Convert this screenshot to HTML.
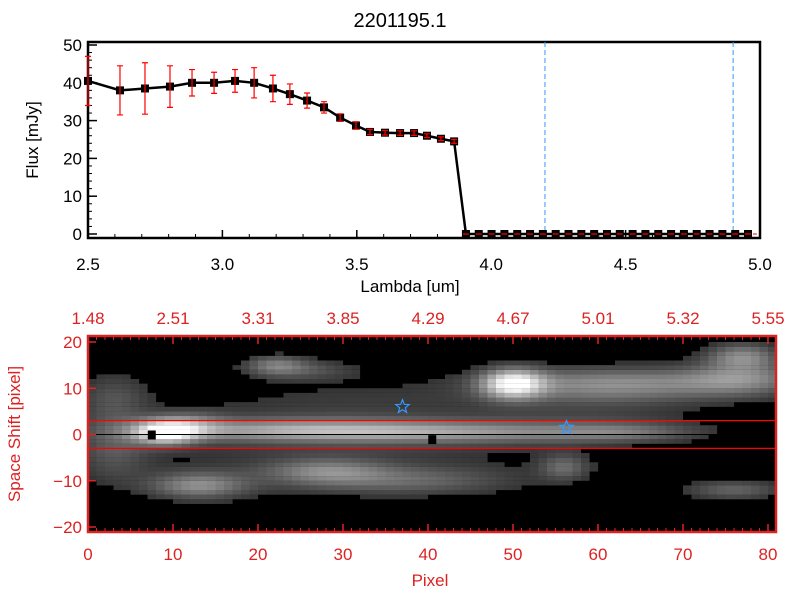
<!DOCTYPE html>
<html><head><meta charset="utf-8"><style>
body{margin:0;background:#fff;}
svg{display:block;font-family:"Liberation Sans",sans-serif;}
</style></head><body>
<svg id="c" width="800" height="600">
<g id="topg"></g>
<g id="bot"></g>
</svg>
<script>
const lambdaVals=[2.5,2.619,2.712,2.805,2.887,2.969,3.047,3.118,3.188,3.251,3.315,3.378,3.438,3.497,3.549,3.605,3.661,3.713,3.761,3.813,3.862];
const fluxVals=[40.5,38,38.5,39,40,40,40.5,40,38.5,37,35.3,33.5,30.8,28.7,27,26.8,26.7,26.7,26,25.2,24.5];
const errVals=[6.5,6.5,6.8,5.5,3.5,2.8,3,4,3.5,2.7,2,1.5,1,1,0.7,0.6,0.6,0.6,0.5,0.5,0.5];
const zeroStart=3.906, zeroStep=0.0477, zeroCount=23;
const xTicks=[2.5,3.0,3.5,4.0,4.5,5.0];
const xTickLabels=["2.5","3.0","3.5","4.0","4.5","5.0"];
const yTicks=[0,10,20,30,40,50];
const blueLines=[4.2,4.9];
const pixTicks=[0,10,20,30,40,50,60,70,80];
const topLabels=["1.48","2.51","3.31","3.85","4.29","4.67","5.01","5.32","5.55"];
const shiftTicks=[-20,-10,0,10,20];
// blobs: [pixelCenter, shiftCenter, sigmaPixel, sigmaShift, amplitude]
const blobs=[[9,0.5,2.5,1.8,0.85],[12,2,3,2,0.3],[24,1,12,1.7,0.45],[45,0.5,14,1.7,0.38],[63,0.5,6,1.5,0.22],
[50,11,2.5,2.2,0.85],[62,11,10,2.5,0.45],[77,12,5,2.5,0.4],[77,17,3,2,0.45],[22,15,2.5,1.5,0.35],[26,14,4,1.5,0.2],
[13,-11,4,2,0.45],[28,-8,5,2,0.35],[38,-10,8,2,0.25],[3,-3,3,5,0.22],[56,-7,2,2,0.3],[76,-12,4,1.5,0.3],[3,8,3,4,0.2],
[30,6,15,5,0.12],[60,6,10,4,0.12],[30,-6,20,6,0.12]];
const markers=[[7.5,0],[40.5,-1]];
const stars=[[37,6],[56.3,1.5]];
const NS='http://www.w3.org/2000/svg';
function mk(p,t,a){const e=document.createElementNS(NS,t);for(const k in a)e.setAttribute(k,a[k]);p.appendChild(e);return e;}
const topG=document.getElementById('topg'),bot=document.getElementById('bot');
const X=l=>88+(l-2.5)*268.8, Y=f=>234-f*3.78;
let t=mk(topG,'text',{x:400,y:27,'text-anchor':'middle','font-size':20});t.textContent='2201195.1';


let fr=mk(topG,'rect',{x:88,y:42,width:672,height:196,fill:'none',stroke:'#000','stroke-width':2.5});


xTicks.forEach((v,i)=>{mk(topG,'line',{x1:X(v),x2:X(v),y1:238,y2:230,stroke:'#000','stroke-width':1.5});
 const tx=mk(topG,'text',{x:X(v),y:270,'text-anchor':'middle','font-size':17});tx.textContent=xTickLabels[i];
 
 });
for(let v=2.5;v<5.0;v+=0.1){mk(topG,'line',{x1:X(v),x2:X(v),y1:238,y2:234,stroke:'#000'});}
yTicks.forEach(v=>{mk(topG,'line',{x1:88,x2:97,y1:Y(v),y2:Y(v),stroke:'#000','stroke-width':1.5});
 const tx=mk(topG,'text',{x:82,y:Y(v)+6,'text-anchor':'end','font-size':17});tx.textContent=v;
 
 });
for(let v=0;v<50;v+=2){mk(topG,'line',{x1:88,x2:92,y1:Y(v),y2:Y(v),stroke:'#000'});}
t=mk(topG,'text',{x:410,y:292,'text-anchor':'middle','font-size':17});t.textContent='Lambda [um]';


t=mk(topG,'text',{x:38,y:140,'text-anchor':'middle','font-size':17,transform:'rotate(-90 38 140)'});t.textContent='Flux [mJy]';


blueLines.forEach(v=>{const l=mk(topG,'line',{x1:X(v),x2:X(v),y1:42,y2:238,stroke:'#39f','stroke-dasharray':'5,3'});
 
 });
const lam=lambdaVals.slice(),fl=fluxVals.slice(),er=errVals.slice();
for(let i=0;i<zeroCount;i++){lam.push(zeroStart+i*zeroStep);fl.push(0);er.push(0);}
let rd=mk(topG,'line',{x1:X(zeroStart),x2:760,y1:Y(0),y2:Y(0),stroke:'red','stroke-dasharray':'4,3'});


const pl=mk(topG,'polyline',{points:lam.map((l,i)=>X(l)+','+Y(fl[i])).join(' '),fill:'none',stroke:'#000','stroke-width':2.5});


lam.forEach((l,i)=>{const r=mk(topG,'rect',{x:X(l)-4,y:Y(fl[i])-4,width:8,height:8,fill:'#000'});
 
 
 if(er[i]>0){const g=mk(topG,'path',{d:`M${X(l)},${Y(fl[i]+er[i])}V${Y(fl[i]-er[i])}M${X(l)-3},${Y(fl[i]+er[i])}h6M${X(l)-3},${Y(fl[i]-er[i])}h6`,stroke:'red','stroke-width':1.2,fill:'none'});
 
 }
 else{mk(topG,'line',{x1:X(l)-3,x2:X(l)+3,y1:Y(0),y2:Y(0),stroke:'red','stroke-width':1.2});}});
// bottom
const PX=p=>88+p*8.5, SY=s=>434.5-s*4.625;
const bg=mk(bot,'rect',{x:88,y:336,width:688,height:196,fill:'#000'});


const cells=mk(bot,'g',{});


for(let p=0;p<81;p++)for(let s=-21;s<21;s++){let v=0;blobs.forEach(b=>{v+=b[4]*Math.exp(-((p+0.5-b[0])**2)/(2*b[2]**2)-((s+0.5-b[1])**2)/(2*b[3]**2));});
 v=Math.min(1,v);if(v<0.1)continue;const g=Math.round(30+v*225);
 mk(cells,'rect',{x:PX(p),y:SY(s+1),width:8.6,height:4.7,fill:`rgb(${g},${g},${g})`});}
[3,-3].forEach(s=>{const l=mk(bot,'line',{x1:88,x2:776,y1:SY(s),y2:SY(s),stroke:'red','stroke-width':1.2});
 
 });
mk(bot,'line',{x1:88,x2:776,y1:SY(0),y2:SY(0),stroke:'#000','stroke-width':1});
markers.forEach(m=>{const r=mk(bot,'rect',{x:PX(m[0])-4,y:SY(m[1])-4,width:8,height:9,fill:'#000'});
 
 });
stars.forEach(s=>{const cx=PX(s[0]),cy=SY(s[1]);let d='';for(let i=0;i<10;i++){const a=-Math.PI/2+i*Math.PI/5,r=i%2?3:7;d+=(i?'L':'M')+(cx+r*Math.cos(a))+','+(cy+r*Math.sin(a));}
 const st=mk(bot,'path',{d:d+'Z',fill:'none',stroke:'#39f','stroke-width':1.2});
 
 });
const f2=mk(bot,'rect',{x:88,y:336,width:688,height:196,fill:'none',stroke:'#d22','stroke-width':2.5});


pixTicks.forEach((v,i)=>{mk(bot,'line',{x1:PX(v),x2:PX(v),y1:532,y2:524,stroke:'#d22','stroke-width':1.5});
 mk(bot,'line',{x1:PX(v),x2:PX(v),y1:336,y2:344,stroke:'#d22','stroke-width':1.5});
 const tx=mk(bot,'text',{x:PX(v),y:560,'text-anchor':'middle','font-size':17,fill:'#d22'});tx.textContent=v;
 
 
 const t2=mk(bot,'text',{x:PX(v),y:324,'text-anchor':'middle','font-size':17,fill:'#d22'});t2.textContent=topLabels[i];
 
 });
for(let v=0;v<81;v++){mk(bot,'line',{x1:PX(v),x2:PX(v),y1:532,y2:528,stroke:'#d22'});mk(bot,'line',{x1:PX(v),x2:PX(v),y1:336,y2:340,stroke:'#d22'});}
shiftTicks.forEach(v=>{mk(bot,'line',{x1:88,x2:96,y1:SY(v),y2:SY(v),stroke:'#d22','stroke-width':1.5});
 const tx=mk(bot,'text',{x:82,y:SY(v)+6,'text-anchor':'end','font-size':17,fill:'#d22'});tx.textContent=v<0?'\u2212'+(-v):v;
 
 });
t=mk(bot,'text',{x:430,y:586,'text-anchor':'middle','font-size':17,fill:'#d22'});t.textContent='Pixel';


t=mk(bot,'text',{x:20,y:434,'text-anchor':'middle','font-size':17,fill:'#d22',transform:'rotate(-90 20 434)'});t.textContent='Space Shift [pixel]';


</script>
</body></html>
